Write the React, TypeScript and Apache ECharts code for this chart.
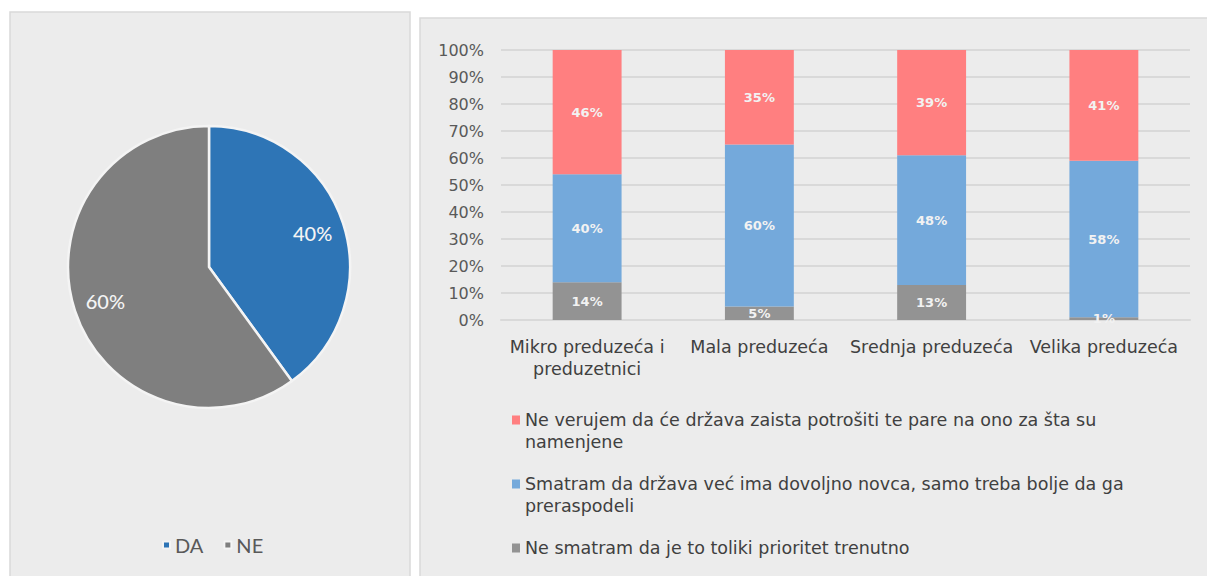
import React, { useEffect, useRef } from "react";
import * as echarts from "echarts";

const pieNames = ["DA", "NE"];
const pieValues = [40, 60];
const pieColors = ["#2e75b6", "#7f7f7f"];

const categories = ["Mikro preduzeća i\npreduzetnici", "Mala preduzeća", "Srednja preduzeća", "Velika preduzeća"];
const seriesRed = [46, 35, 39, 41];
const seriesBlue = [40, 60, 48, 58];
const seriesGray = [14, 5, 13, 1];
const nameRed = "Ne verujem da će država zaista potrošiti te pare na ono za šta su namenjene";
const nameBlue = "Smatram da država već ima dovoljno novca, samo treba bolje da ga preraspodeli";
const nameGray = "Ne smatram da je to toliki prioritet trenutno";
const legendText: Record<string, string> = {
  [nameRed]: "Ne verujem da će država zaista potrošiti te pare na ono za šta su\nnamenjene",
  [nameBlue]: "Smatram da država već ima dovoljno novca, samo treba bolje da ga\npreraspodeli",
  [nameGray]: "Ne smatram da je to toliki prioritet trenutno",
};
const yTicks = [0, 10, 20, 30, 40, 50, 60, 70, 80, 90, 100];

const FONT_R = "DejaVu Sans";
// square marker aligned with the first of two text lines
const TOP_ICON = "path://M0,0 H8 V9 H0 Z M0,31 H0.1 V31.1 H0 Z";

export default function App() {
  const ref = useRef<HTMLDivElement>(null);
  useEffect(() => {
    const chart = echarts.init(ref.current!, null, { renderer: "svg" });
    const barLabel = {
      show: true,
      position: "inside",
      formatter: "{c}%",
      color: "#f2f2f2",
      fontSize: 13,
      fontWeight: "bold",
      fontFamily: "DejaVu Sans",
    };
    const mkLegend = (name: string, top: number, twoLines: boolean) => ({
      data: [name],
      orient: "vertical",
      left: 507,
      top,
      itemWidth: 8,
      itemHeight: twoLines ? 31.1 : 9,
      icon: twoLines ? TOP_ICON : "rect",
      formatter: (n: string) => legendText[n] || n,
      textStyle: { fontFamily: FONT_R, fontSize: 17.5, color: "#404040", lineHeight: 22 },
    });
    chart.setOption({
      animation: false,
      backgroundColor: "#ffffff",
      graphic: [
        {
          type: "rect",
          z: -10,
          shape: { x: 10, y: 12, width: 400, height: 580 },
          style: { fill: "#ececec", stroke: "#d9d9d9", lineWidth: 1.5 },
          silent: true,
        },
        {
          type: "rect",
          z: -10,
          shape: { x: 420, y: 18, width: 800, height: 580 },
          style: { fill: "#ececec", stroke: "#d9d9d9", lineWidth: 1.5 },
          silent: true,
        },
      ],
      legend: [
        {
          data: pieNames,
          left: 157,
          top: 530,
          itemWidth: 7,
          itemHeight: 7,
          itemGap: 20,
          icon: "rect",
          textStyle: { fontFamily: "Lato", fontSize: 20, color: "#595959" },
        },
        mkLegend(nameRed, 404, true),
        mkLegend(nameBlue, 468, true),
        mkLegend(nameGray, 532, false),
      ],
      grid: { left: 501, right: 17, top: 50, bottom: 256 },
      xAxis: {
        type: "category",
        data: categories,
        axisLine: { lineStyle: { color: "#d9d9d9", width: 2 } },
        axisTick: { show: false },
        axisLabel: {
          interval: 0,
          margin: 16,
          fontFamily: FONT_R,
          fontSize: 17.5,
          lineHeight: 22,
          color: "#404040",
        },
      },
      yAxis: {
        type: "value",
        min: 0,
        max: 100,
        interval: 10,
        axisLine: { show: false },
        axisTick: { show: false },
        splitLine: { lineStyle: { color: "#d9d9d9", width: 2 } },
        axisLabel: {
          formatter: (v: number) => (yTicks.includes(v) ? v + "%" : ""),
          margin: 17,
          fontFamily: FONT_R,
          fontSize: 16,
          color: "#595959",
        },
      },
      series: [
        {
          type: "pie",
          center: [209, 267],
          radius: [0, 141],
          startAngle: 90,
          clockwise: true,
          label: { show: false },
          labelLine: { show: false },
          itemStyle: { borderColor: "#f4f4f4", borderWidth: 2.5 },
          data: pieNames.map((n, i) => ({ name: n, value: pieValues[i], itemStyle: { color: pieColors[i] } })),
        },
        {
          type: "pie",
          center: [209, 267],
          radius: [71, 141],
          startAngle: 90,
          clockwise: true,
          silent: true,
          itemStyle: { color: "rgba(0,0,0,0)" },
          label: {
            show: true,
            position: "inside",
            formatter: "{c}%",
            color: "#f4f4f4",
            fontFamily: "Lato",
            fontSize: 20,
            fontWeight: 500,
          },
          labelLine: { show: false },
          data: pieNames.map((n, i) => ({ name: n, value: pieValues[i] })),
        },
        {
          name: nameGray,
          type: "bar",
          stack: "s",
          barWidth: "40%",
          itemStyle: { color: "#939393" },
          label: barLabel,
          data: seriesGray,
        },
        {
          name: nameBlue,
          type: "bar",
          stack: "s",
          barWidth: "40%",
          itemStyle: { color: "#74a9db" },
          label: barLabel,
          data: seriesBlue,
        },
        {
          name: nameRed,
          type: "bar",
          stack: "s",
          barWidth: "40%",
          itemStyle: { color: "#ff7f80" },
          label: barLabel,
          data: seriesRed,
        },
      ],
    });
    return () => chart.dispose();
  }, []);
  return (
    <div
      ref={ref}
      style={{ position: "absolute", left: 0, top: 0, width: 1207, height: 576 }}
    />
  );
}
